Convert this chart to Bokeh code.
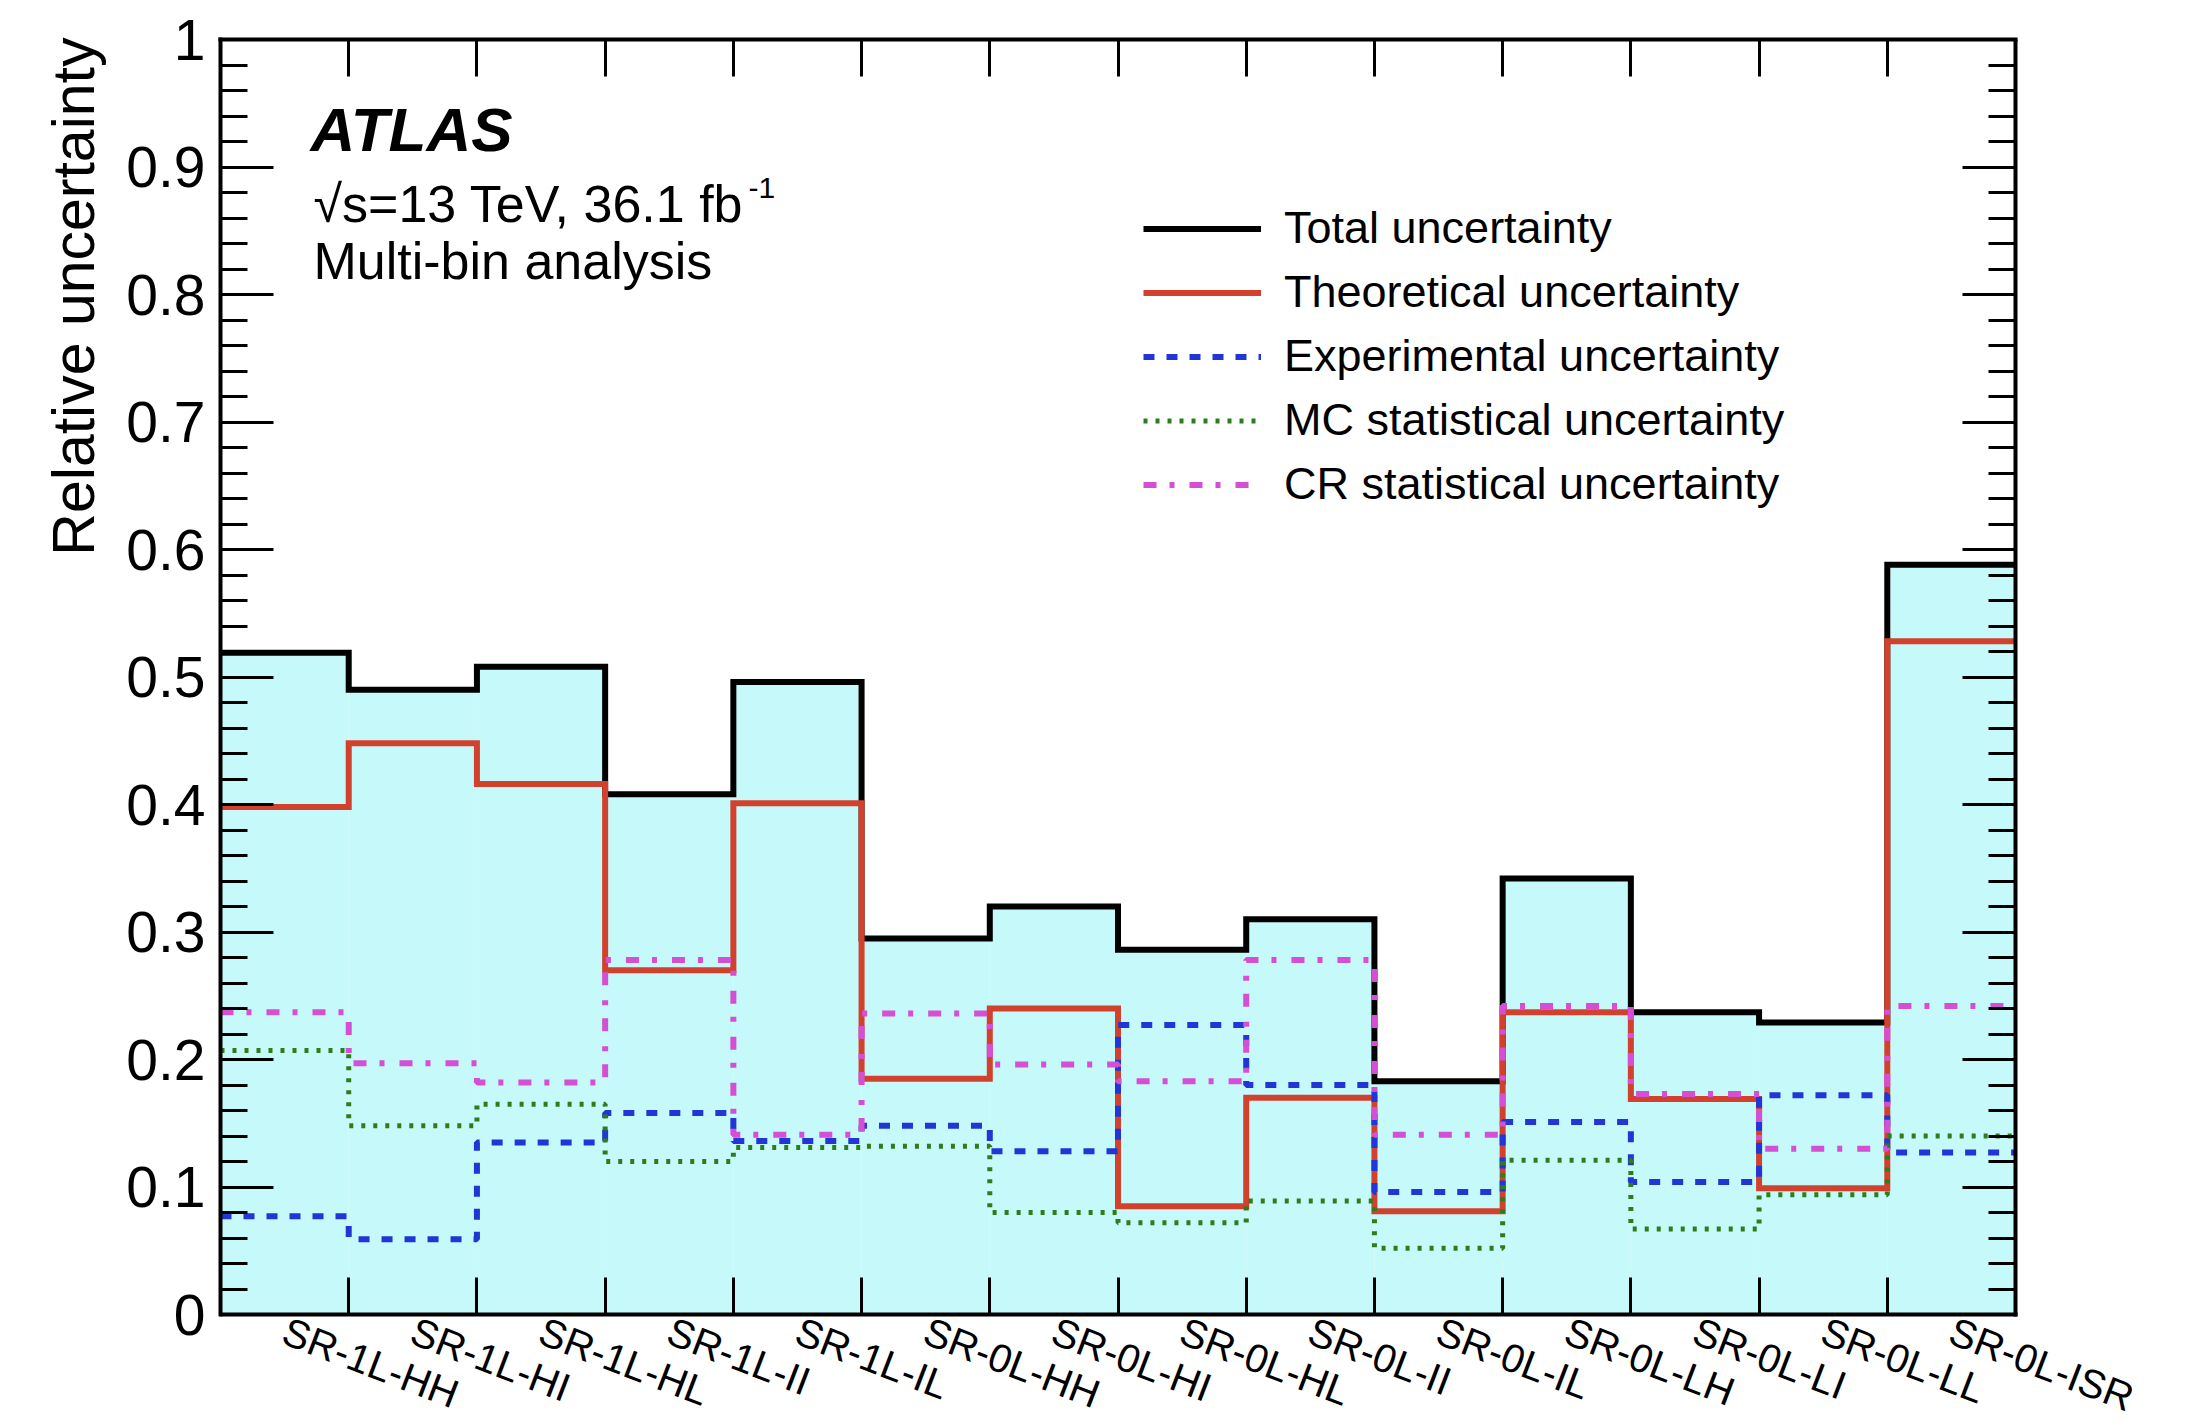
from bokeh.plotting import figure
from bokeh.models import (Range1d, LinearAxis, FixedTicker, Label, Legend,
                          LegendItem, Title)
from bokeh.embed import file_html
from bokeh.resources import INLINE
import math

# Signal regions (one bin each)
regions = ["SR-1L-HH", "SR-1L-HI", "SR-1L-HL", "SR-1L-II", "SR-1L-IL",
           "SR-0L-HH", "SR-0L-HI", "SR-0L-HL", "SR-0L-II", "SR-0L-IL",
           "SR-0L-LH", "SR-0L-LI", "SR-0L-LL", "SR-0L-ISR"]

# Relative uncertainties per region
total_unc = [0.519, 0.490, 0.508, 0.408, 0.496, 0.295, 0.320,
             0.286, 0.310, 0.183, 0.342, 0.237, 0.229, 0.588]
theory_unc = [0.398, 0.448, 0.416, 0.270, 0.401, 0.185, 0.240,
              0.085, 0.170, 0.081, 0.237, 0.169, 0.099, 0.528]
exp_unc = [0.077, 0.059, 0.135, 0.158, 0.136, 0.148, 0.128,
           0.227, 0.180, 0.096, 0.151, 0.104, 0.172, 0.127]
mc_stat_unc = [0.207, 0.148, 0.165, 0.120, 0.131, 0.132, 0.080,
               0.072, 0.089, 0.052, 0.121, 0.067, 0.094, 0.140]
cr_stat_unc = [0.237, 0.197, 0.182, 0.278, 0.141, 0.236, 0.196,
               0.183, 0.278, 0.141, 0.242, 0.173, 0.130, 0.242]

y_ticks = [0.0, 0.1, 0.2, 0.3, 0.4, 0.5, 0.6, 0.7, 0.8, 0.9, 1.0]
y_tick_labels = ["0", "0.1", "0.2", "0.3", "0.4", "0.5",
                 "0.6", "0.7", "0.8", "0.9", "1"]

n = len(regions)
edges = list(range(n + 1))
centers = [i + 0.5 for i in range(n)]
y_minor = [i * 0.02 for i in range(51)]

FONT = "Liberation Sans"

# Canvas geometry: the histogram box is 1795 x 1275 px; the drawing area is
# extended to the right and bottom canvas edges so that the slanted bin
# labels (drawn by an axis pinned at y=0) have room below the box.
W, H = 2187, 1428
LEFT, TOP = 220, 39
BOX_W, BOX_H = 1795, 1275
x_end = n * (W - LEFT) / BOX_W
y_start = -(H - TOP - BOX_H) / BOX_H

p = figure(width=W, height=H,
           x_range=Range1d(0, x_end), y_range=Range1d(y_start, 1),
           x_axis_type=None, y_axis_type=None,
           output_backend="svg", toolbar_location=None,
           min_border_left=LEFT, min_border_right=0,
           min_border_top=TOP, min_border_bottom=0)
p.background_fill_color = "white"
p.border_fill_color = "white"
p.outline_line_color = None


def closed(vals):
    return vals + [vals[-1]]


# Filled envelope of the total uncertainty
p.quad(left=edges[:-1], right=edges[1:], bottom=0, top=total_unc,
       fill_color="#c6f9f9", line_color=None)

r_total = p.step(x=edges, y=closed(total_unc), mode="after",
                 line_color="black", line_width=6, line_join="miter")
r_theory = p.step(x=edges, y=closed(theory_unc), mode="after",
                  line_color="#d2412d", line_width=6, line_join="miter")
r_exp = p.step(x=edges, y=closed(exp_unc), mode="after",
               line_color="#2236d6", line_width=6, line_dash="11 12")
r_mc = p.step(x=edges, y=closed(mc_stat_unc), mode="after",
              line_color="#2e7d1a", line_width=5, line_dash="4 8")
r_cr = p.step(x=edges, y=closed(cr_stat_unc), mode="after",
              line_color="#d54fd5", line_width=6, line_dash="13 13 5 15")


def y_axis(with_labels):
    ax = LinearAxis(ticker=FixedTicker(ticks=y_ticks, minor_ticks=y_minor),
                    bounds=(0, 1))
    ax.major_tick_in = 53
    ax.major_tick_out = 0
    ax.minor_tick_in = 27
    ax.minor_tick_out = 0
    ax.major_tick_line_width = 3
    ax.minor_tick_line_width = 3
    ax.axis_line_width = 4
    ax.axis_line_cap = "square"
    if with_labels:
        ax.major_label_overrides = dict(zip(y_ticks, y_tick_labels))
        ax.major_label_text_font = FONT
        ax.major_label_text_font_size = "57px"
        ax.major_label_text_color = "black"
        ax.major_label_standoff = 15
    else:
        ax.fixed_location = n
        ax.major_label_overrides = {t: "" for t in y_ticks}
    return ax


def x_axis(with_labels):
    ax = LinearAxis(ticker=FixedTicker(ticks=centers, minor_ticks=edges),
                    bounds=(0, n))
    ax.major_tick_in = 0
    ax.major_tick_out = 0
    ax.minor_tick_in = 37
    ax.minor_tick_out = 0
    ax.minor_tick_line_width = 3
    ax.axis_line_width = 4
    ax.axis_line_cap = "square"
    if with_labels:
        ax.fixed_location = 0
        ax.major_label_overrides = dict(zip(centers, regions))
        ax.major_label_text_font = FONT
        ax.major_label_text_font_size = "40px"
        ax.major_label_text_color = "black"
        ax.major_label_orientation = -math.radians(21)
        ax.major_label_standoff = 15
    else:
        ax.major_label_overrides = {c: "" for c in centers}
    return ax


p.add_layout(y_axis(True), "left")
p.add_layout(y_axis(False), "right")
p.add_layout(x_axis(True), "below")
p.add_layout(x_axis(False), "above")

# Axis title, aligned with the top of the box
p.add_layout(Title(text="Relative uncertainty", align="right",
                   text_font=FONT, text_font_size="59px",
                   text_font_style="normal", text_color="black",
                   standoff=34, offset=-2), "left")

# Experiment annotation (screen offsets from the bottom-left of the drawing area)
p.add_layout(Label(x=90, y=1299, x_units="screen", y_units="screen",
                   text="ATLAS", text_font=FONT, text_font_style="bold italic",
                   text_font_size="62px", text_baseline="alphabetic",
                   text_color="black"))
p.add_layout(Label(x=93, y=1225, x_units="screen", y_units="screen",
                   text="\u221as=13 TeV, 36.1 fb", text_font=FONT,
                   text_font_size="52px", text_baseline="alphabetic",
                   text_color="black"))
p.add_layout(Label(x=528, y=1241, x_units="screen", y_units="screen",
                   text="-1", text_font=FONT,
                   text_font_size="30px", text_baseline="alphabetic",
                   text_color="black"))
p.add_layout(Label(x=93, y=1168, x_units="screen", y_units="screen",
                   text="Multi-bin analysis", text_font=FONT,
                   text_font_size="52px", text_baseline="alphabetic",
                   text_color="black"))

legend = Legend(items=[
    LegendItem(label="Total uncertainty", renderers=[r_total]),
    LegendItem(label="Theoretical uncertainty", renderers=[r_theory]),
    LegendItem(label="Experimental uncertainty", renderers=[r_exp]),
    LegendItem(label="MC statistical uncertainty", renderers=[r_mc]),
    LegendItem(label="CR statistical uncertainty", renderers=[r_cr]),
], location=(923, 918))
legend.background_fill_alpha = 0
legend.border_line_alpha = 0
legend.label_text_font = FONT
legend.label_text_font_size = "45px"
legend.label_text_color = "black"
legend.glyph_width = 118
legend.glyph_height = 45
legend.label_height = 45
legend.spacing = 12
legend.padding = 0
legend.margin = 0
legend.label_standoff = 23
p.add_layout(legend)

open("out.html", "w").write(file_html(p, INLINE))
